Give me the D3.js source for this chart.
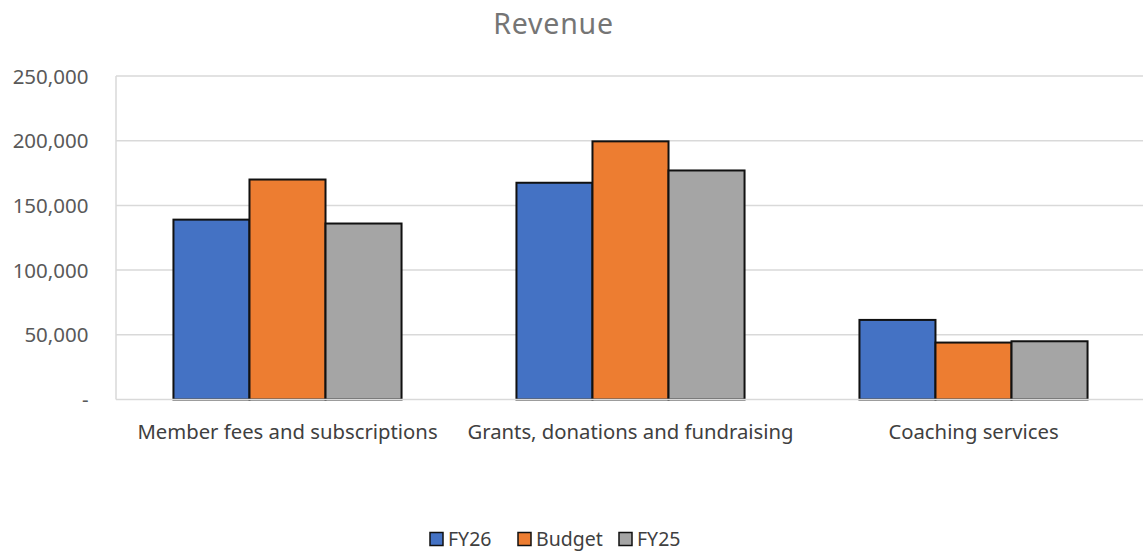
<!DOCTYPE html>
<html><head><meta charset="utf-8">
<script src="https://cdn.jsdelivr.net/npm/d3@7"></script>
<style>body{margin:0;background:#fff}svg{display:block}text{font-family:"Noto Sans",sans-serif}</style>
</head><body>
<svg id="c" width="1143" height="551"></svg>
<script>
const categories = ["Member fees and subscriptions", "Grants, donations and fundraising", "Coaching services"];
const seriesNames = ["FY26", "Budget", "FY25"];
const fy26 = [139000, 167500, 61500];
const budget = [170000, 199500, 44000];
const fy25 = [136000, 177000, 45000];
const yTicks = [0, 50000, 100000, 150000, 200000, 250000];
const colors = ["#4472c4", "#ed7d31", "#a5a5a5"];

const values = [fy26, budget, fy25];
const svg = d3.select("#c");
const pLeft = 116, pRight = 1145, pTop = 76, pBottom = 399.5;

const y = d3.scaleLinear().domain([0, 250000]).range([pBottom, pTop]);
const x0 = d3.scaleBand().domain(categories).range([pLeft, pRight]).paddingInner(0.335).paddingOuter(0.1675);
const x1 = d3.scaleBand().domain(seriesNames).range([0, x0.bandwidth()]);

// gridlines
svg.append("g").selectAll("line").data(yTicks.filter(d => d > 0)).join("line")
  .attr("x1", pLeft).attr("x2", 1143).attr("y1", d => y(d)).attr("y2", d => y(d))
  .attr("stroke", "#d9d9d9").attr("stroke-width", 1.5);

// y axis labels
const fmt = d3.format(",");
svg.append("g").selectAll("text").data(yTicks).join("text")
  .attr("x", 88.5).attr("y", d => y(d) + 7.5).attr("text-anchor", "end")
  .attr("font-size", 20.5).attr("fill", "#595959")
  .text(d => d === 0 ? "-" : fmt(d));

// left axis line
svg.append("line").attr("x1", pLeft).attr("x2", pLeft).attr("y1", pTop).attr("y2", pBottom)
  .attr("stroke", "#d9d9d9").attr("stroke-width", 1.5);

// bars
const groups = svg.append("g").selectAll("g").data(categories).join("g")
  .attr("transform", c => `translate(${x0(c)},0)`);
groups.selectAll("rect").data((c, i) => seriesNames.map((s, j) => ({s, j, v: values[j][i]}))).join("rect")
  .attr("x", d => x1(d.s)).attr("width", x1.bandwidth())
  .attr("y", d => y(d.v)).attr("height", d => y(0) - y(d.v))
  .attr("fill", d => colors[d.j]).attr("stroke", "#111").attr("stroke-width", 2);

// baseline
svg.append("line").attr("x1", pLeft).attr("x2", 1143).attr("y1", pBottom).attr("y2", pBottom)
  .attr("stroke", "#d9d9d9").attr("stroke-width", 1.5);

// category labels
svg.append("g").selectAll("text").data(categories).join("text")
  .attr("x", c => x0(c) + x0.bandwidth() / 2).attr("y", 438.5)
  .attr("text-anchor", "middle").attr("font-size", 20.3).attr("fill", "#404040")
  .text(c => c);

// title
svg.append("text").attr("x", 553.5).attr("y", 33.5).attr("text-anchor", "middle")
  .attr("font-size", 28.5).attr("letter-spacing", 0.8).attr("fill", "#757575").text("Revenue");

// legend
const legX = [429.5, 517.5, 618.5];
const leg = svg.append("g").selectAll("g").data(seriesNames).join("g")
  .attr("transform", (s, i) => `translate(${legX[i]},539)`);
leg.append("rect").attr("x", 0.5).attr("y", -6.5).attr("width", 13).attr("height", 13)
  .attr("fill", (s, i) => colors[i]).attr("stroke", "#111").attr("stroke-width", 1.5);
leg.append("text").attr("x", 18.5).attr("y", 7)
  .attr("font-size", 19.5).attr("fill", "#404040").text(s => s);
</script>
</body></html>
